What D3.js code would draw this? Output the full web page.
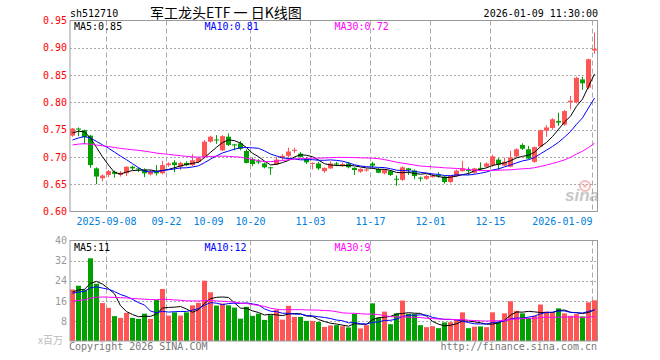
<!DOCTYPE html>
<html><head><meta charset="utf-8">
<script src="https://cdn.jsdelivr.net/npm/d3@7"></script>
<style>
html,body{margin:0;padding:0;background:#fff;}
svg{display:block;}
text{font-family:"DejaVu Sans Mono",monospace;font-size:10px;}
</style></head><body>
<svg id="c" width="660" height="360"></svg>
<script>
// ---------- DATA ----------
const dates = ["2025-08-29","2025-09-01","2025-09-02","2025-09-03","2025-09-04","2025-09-05",
"2025-09-08","2025-09-09","2025-09-10","2025-09-11","2025-09-12","2025-09-15","2025-09-16","2025-09-17","2025-09-18","2025-09-19",
"2025-09-22","2025-09-23","2025-09-24","2025-09-25","2025-09-26","2025-09-29","2025-09-30","2025-10-09","2025-10-10",
"2025-10-13","2025-10-14","2025-10-15","2025-10-16","2025-10-17","2025-10-20","2025-10-21","2025-10-22","2025-10-23","2025-10-24",
"2025-10-27","2025-10-28","2025-10-29","2025-10-30","2025-10-31","2025-11-03","2025-11-04","2025-11-05","2025-11-06","2025-11-07",
"2025-11-10","2025-11-11","2025-11-12","2025-11-13","2025-11-14","2025-11-17","2025-11-18","2025-11-19","2025-11-20","2025-11-21",
"2025-11-24","2025-11-25","2025-11-26","2025-11-27","2025-11-28","2025-12-01","2025-12-02","2025-12-03","2025-12-04","2025-12-05",
"2025-12-08","2025-12-09","2025-12-10","2025-12-11","2025-12-12","2025-12-15","2025-12-16","2025-12-17","2025-12-18","2025-12-19",
"2025-12-22","2025-12-23","2025-12-24","2025-12-25","2025-12-26","2025-12-29","2025-12-30","2025-12-31",
"2026-01-05","2026-01-06","2026-01-07","2026-01-08","2026-01-09"];

const open = [0.739,0.752,0.749,0.739,0.679,0.661,0.667,0.673,0.667,0.670,
0.682,0.679,0.677,0.668,0.674,0.670,0.685,0.690,0.682,0.689,
0.685,0.691,0.700,0.728,0.732,0.712,0.737,0.723,0.725,0.711,
0.696,0.692,0.688,0.681,0.686,0.698,0.702,0.711,0.706,0.696,
0.688,0.688,0.674,0.679,0.688,0.684,0.688,0.680,0.673,0.675,
0.688,0.678,0.670,0.674,0.660,0.658,0.679,0.675,0.662,0.660,
0.663,0.667,0.664,0.654,0.665,0.674,0.676,0.671,0.680,0.682,
0.685,0.695,0.684,0.682,0.701,0.722,0.714,0.691,0.719,0.748,
0.753,0.766,0.759,0.800,0.800,0.842,0.827,0.895];
const high = [0.753,0.754,0.750,0.740,0.681,0.668,0.676,0.675,0.674,0.683,
0.684,0.681,0.679,0.676,0.685,0.693,0.690,0.694,0.691,0.692,
0.705,0.700,0.731,0.739,0.740,0.740,0.743,0.724,0.729,0.714,
0.699,0.696,0.690,0.682,0.700,0.705,0.717,0.717,0.709,0.700,
0.690,0.691,0.681,0.692,0.691,0.690,0.690,0.681,0.679,0.679,
0.691,0.680,0.678,0.676,0.666,0.683,0.680,0.677,0.664,0.668,
0.670,0.672,0.666,0.666,0.677,0.693,0.681,0.680,0.690,0.690,
0.704,0.698,0.699,0.711,0.716,0.725,0.720,0.719,0.750,0.758,
0.771,0.781,0.786,0.812,0.847,0.847,0.880,0.928];
const low = [0.737,0.738,0.723,0.680,0.650,0.655,0.663,0.662,0.664,0.665,
0.676,0.672,0.663,0.666,0.666,0.668,0.682,0.672,0.676,0.683,
0.683,0.689,0.698,0.726,0.724,0.711,0.720,0.712,0.712,0.688,
0.683,0.687,0.679,0.667,0.685,0.694,0.694,0.707,0.699,0.687,
0.677,0.676,0.671,0.678,0.683,0.682,0.679,0.667,0.671,0.673,
0.678,0.670,0.668,0.665,0.647,0.656,0.667,0.659,0.655,0.658,
0.662,0.662,0.651,0.652,0.663,0.673,0.667,0.669,0.675,0.680,
0.682,0.676,0.683,0.681,0.699,0.713,0.696,0.689,0.718,0.737,
0.750,0.757,0.757,0.787,0.798,0.823,0.824,0.889];
const close = [0.752,0.750,0.736,0.685,0.664,0.666,0.674,0.669,0.671,0.682,
0.679,0.677,0.670,0.673,0.670,0.685,0.688,0.685,0.689,0.685,
0.694,0.698,0.728,0.737,0.731,0.738,0.722,0.721,0.715,0.689,
0.687,0.690,0.681,0.680,0.695,0.702,0.710,0.713,0.700,0.690,
0.689,0.679,0.680,0.688,0.686,0.687,0.681,0.676,0.678,0.677,
0.684,0.671,0.677,0.667,0.659,0.681,0.676,0.665,0.661,0.665,
0.665,0.665,0.654,0.665,0.675,0.679,0.675,0.679,0.679,0.688,
0.701,0.686,0.691,0.699,0.714,0.715,0.697,0.718,0.749,0.754,
0.769,0.763,0.784,0.803,0.845,0.835,0.879,0.898];
// volume, millions
const volume = [20.5,22,20.4,32.9,22.8,15.1,13.2,9.9,9.2,11.2,
9.2,8.8,10.9,8.8,16.3,20.7,10.1,11.4,10.1,11.4,
14.2,15.2,24,19.4,14.1,14.9,14.2,13.3,8.9,13.6,
10,10.9,8.4,10.3,12.4,8.5,14,9.6,9.6,8,
8,7.6,5.6,6.2,6.3,5.9,5.4,10.8,5,6.3,
15,9.3,11.7,6.7,11,16.1,10.8,10.7,6.3,5.5,
5.9,5.1,7.4,7.5,8.4,11.4,5.1,5.7,5.8,5.5,
11.4,7.6,11,15.8,12,11,9.2,10,14.5,11.7,
11.5,13,11,10,10.7,9.8,15.4,16.2];
// sessions before the window (estimated from where the MA lines start)
const prevClose = [0.705,0.712,0.716,0.710,0.708,0.714,0.720,0.722,0.718,0.715,
0.711,0.716,0.721,0.726,0.724,0.719,0.722,0.727,0.725,0.719,
0.712,0.709,0.716,0.723,0.730,0.735,0.741,0.744,0.748];
const prevVol = [12,13,11,14,12,15,13,12,14,16,13,15,14,17,15,14,16,15,18,15,
17,18,18.5,19,20,18,19,21,19];

const priceTicks = [0.60,0.65,0.70,0.75,0.80,0.85,0.90,0.95];
const volTicks = [8,16,24,32,40];
const tickDates = ["2025-09-08","2025-09-22","2025-10-09","2025-10-20","2025-11-03","2025-11-17","2025-12-01","2025-12-15","2026-01-09"];
const tickLabels = ["2025-09-08","09-22","10-09","10-20","11-03","11-17","12-01","12-15","2026-01-09"];
const gridDates = ["2025-09-08","2025-09-22","2025-10-20","2025-11-03","2025-11-17","2025-12-01","2025-12-15","2026-01-09"];
const priceMALabels = ["MA5:0.85","MA10:0.81","MA30:0.72"];
const volMALabels = ["MA5:11","MA10:12","MA30:9"];
const maPeriods = [5,10,30];
const maColors = ["#000000","#0000ff","#ff00ff"];

// ---------- CHART ----------
const svg = d3.select("#c");
const UP = "#ff5555", DOWN = "#00a000";
const FL = 70, FR = 597.5;
const PT = 20.5, PB = 211.5, VT = 240.5, VB = 341;

const x = d3.scaleBand().domain(dates).range([69.5, 597.5]).paddingInner(1/6).paddingOuter(1/12);
const bw = x.bandwidth();
const yP = d3.scaleLinear().domain([0.60, 0.95]).range([PB, PT]);
const yV = d3.scaleLinear().domain([0, 40]).range([VB, VT]);

const P = prevClose.length;
const allClose = prevClose.concat(close);
const allVol = prevVol.concat(volume);
function ma(arr, k){ return dates.map((d,i)=> d3.mean(arr.slice(P+i-k+1, P+i+1))); }

// clip paths
const defs = svg.append("defs");
defs.append("clipPath").attr("id","clipP").append("rect").attr("x",FL).attr("y",PT).attr("width",FR-FL).attr("height",PB-PT);
defs.append("clipPath").attr("id","clipV").append("rect").attr("x",FL).attr("y",VT).attr("width",FR-FL).attr("height",VB-VT);

// horizontal dotted grid
svg.append("g").selectAll("line").data(priceTicks.filter(t=>t>0.6 && t<0.95)).join("line")
  .attr("x1",FL).attr("x2",FR).attr("y1",d=>Math.round(yP(d))+0.5).attr("y2",d=>Math.round(yP(d))+0.5)
  .attr("stroke","#aaa").attr("stroke-dasharray","2,2");
svg.append("g").selectAll("line").data(volTicks.filter(t=>t<40)).join("line")
  .attr("x1",FL).attr("x2",FR).attr("y1",d=>Math.round(yV(d))+0.5).attr("y2",d=>Math.round(yV(d))+0.5)
  .attr("stroke","#aaa").attr("stroke-dasharray","2,2");

// vertical dashed grid
const vg = svg.append("g");
gridDates.forEach(d=>{
  const gx = x(d)+0.5;
  vg.append("line").attr("x1",gx).attr("x2",gx).attr("y1",PT).attr("y2",PB).attr("stroke","#aaa").attr("stroke-dasharray","5,3");
  vg.append("line").attr("x1",gx).attr("x2",gx).attr("y1",VT).attr("y2",VB).attr("stroke","#aaa").attr("stroke-dasharray","5,3");
});

// candles
const cg = svg.append("g").attr("clip-path","url(#clipP)");
dates.forEach((d,i)=>{
  const up = close[i] >= open[i];
  const col = up ? UP : DOWN;
  const cx = x(d) + bw/2;
  cg.append("line").attr("x1",cx).attr("x2",cx).attr("y1",yP(high[i])).attr("y2",yP(low[i])).attr("stroke",col).attr("stroke-width",1);
  const yt = yP(Math.max(open[i],close[i])), yb = yP(Math.min(open[i],close[i]));
  cg.append("rect").attr("x",x(d)).attr("width",bw).attr("y",yt).attr("height",Math.max(1,yb-yt)).attr("fill",col);
});

// volume bars
const vbars = svg.append("g");
dates.forEach((d,i)=>{
  const up = close[i] >= open[i];
  vbars.append("rect").attr("x",x(d)).attr("width",bw).attr("y",yV(volume[i])).attr("height",VB-yV(volume[i]))
    .attr("fill", up ? UP : DOWN);
});

// MA lines
maPeriods.forEach((k,j)=>{
  const mp = ma(allClose,k);
  svg.append("path").datum(mp).attr("clip-path","url(#clipP)")
    .attr("d", d3.line().x((v,i)=>x(dates[i])+bw/2).y(v=>yP(v)))
    .attr("fill","none").attr("stroke",maColors[j]).attr("stroke-width",1);
  const mv = ma(allVol,k);
  svg.append("path").datum(mv).attr("clip-path","url(#clipV)")
    .attr("d", d3.line().x((v,i)=>x(dates[i])+bw/2).y(v=>yV(v)))
    .attr("fill","none").attr("stroke",maColors[j]).attr("stroke-width",1);
});

// frames
svg.append("rect").attr("x",FL).attr("y",PT).attr("width",FR-FL).attr("height",PB-PT).attr("fill","none").attr("stroke","#999");
svg.append("rect").attr("x",FL).attr("y",VT).attr("width",FR-FL).attr("height",VB-VT).attr("fill","none").attr("stroke","#999");

// price axis labels
const pAxis = svg.append("g").attr("transform",`translate(${FL-3},0)`)
  .call(d3.axisLeft(yP).tickValues(priceTicks).tickFormat(d3.format(".2f")).tickSize(0).tickPadding(0));
pAxis.select(".domain").remove();
pAxis.selectAll("text").attr("fill","#ff0000").style("font-family","DejaVu Sans Mono").style("font-size","10px");

// volume axis labels
const vAxis = svg.append("g").attr("transform",`translate(${FL-3},0)`)
  .call(d3.axisLeft(yV).tickValues(volTicks).tickFormat(d3.format("d")).tickSize(0).tickPadding(0));
vAxis.select(".domain").remove();
vAxis.selectAll("text").attr("fill","#999").style("font-family","DejaVu Sans Mono").style("font-size","10px");

// date labels
svg.append("g").selectAll("text").data(tickDates).join("text")
  .attr("x",(d,i)=> i===tickDates.length-1 ? x(d)+0.5 : x(d)+0.5)
  .attr("y",225).attr("text-anchor",(d,i)=> i===tickDates.length-1 ? "end" : "middle")
  .attr("fill","#0080dd").text((d,i)=>tickLabels[i]);

// MA legends
const lgx = [74, 204.5, 334.5];
priceMALabels.forEach((t,j)=> svg.append("text").attr("x",lgx[j]).attr("y",30).attr("fill",maColors[j]).text(t));
volMALabels.forEach((t,j)=> svg.append("text").attr("x",lgx[j]).attr("y",250.5).attr("fill",maColors[j]).text(t));

// header
svg.append("text").attr("x",70).attr("y",17).attr("fill","#000").text("sh512710");
svg.append("text").attr("x",150).attr("y",18).attr("fill","#000")
  .style("font-family","'Noto Sans CJK SC',sans-serif").style("font-size","14px").text("军工龙头ETF 一 日K线图");
svg.append("text").attr("x",598).attr("y",17).attr("text-anchor","end").attr("fill","#000").text("2026-01-09 11:30:00");

// footer
svg.append("text").attr("x",38).attr("y",344).attr("fill","#bbb")
  .style("font-family","'Noto Sans CJK SC',sans-serif").style("font-size","10px").text("x百万");
svg.append("text").attr("x",69).attr("y",349.5).attr("fill","#777").text("Copyright 2026 SINA.COM");
svg.append("text").attr("x",597).attr("y",349.5).attr("text-anchor","end").attr("fill","#777").text("http://finance.sina.com.cn");

// sina watermark
const wm = svg.append("g").attr("opacity",0.55);
wm.append("circle").attr("cx",585).attr("cy",186).attr("r",5).attr("fill","none").attr("stroke","#f08080").attr("stroke-width",2);
wm.append("circle").attr("cx",585).attr("cy",186).attr("r",1.8).attr("fill","#f08080");
wm.append("text").attr("x",565).attr("y",201).attr("fill","#999")
  .style("font-family","'Liberation Sans',Arial,sans-serif").style("font-size","17px").style("font-style","italic").style("font-weight","bold").text("sina");
</script>
</body></html>
